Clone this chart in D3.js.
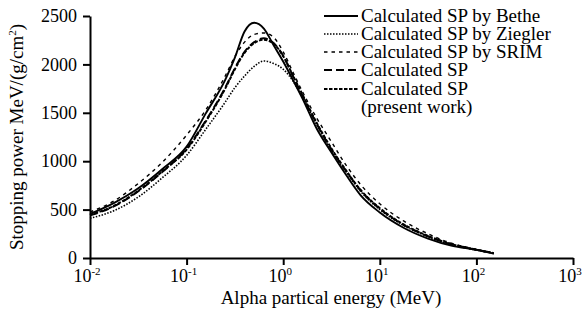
<!DOCTYPE html>
<html>
<head>
    <meta charset="utf-8">
    <title>Stopping power of alpha particles</title>
    <script src="https://d3js.org/d3.v7.min.js"></script>
    <style>
        body { margin: 0; background: #fff; }
        text { font-family: "Liberation Serif", "Times New Roman", serif; fill: #000; }
    </style>
</head>
<body>
    <script>
        // energies (MeV)
        var energy = [0.01, 0.0178, 0.0316, 0.0562, 0.1, 0.158, 0.251, 0.316, 0.398, 0.501,
                      0.631, 0.794, 1, 1.26, 1.58, 2.24, 3.16, 4.47, 6.31, 10, 17.8, 31.6, 56.2, 100, 151];

        var bethe   = [455, 570, 720, 920, 1150, 1494, 1840, 2070, 2340, 2430, 2370, 2200, 2030,
                       1840, 1650, 1330, 1090, 860, 650, 470, 310, 200, 125, 85, 45];
        var ziegler = [410, 490, 630, 830, 1060, 1330, 1610, 1760, 1880, 1980, 2035, 2010, 1950,
                       1830, 1660, 1370, 1110, 890, 690, 500, 335, 220, 135, 82, 48];
        var srim    = [475, 590, 770, 990, 1270, 1530, 1880, 2080, 2230, 2310, 2325, 2280, 2130,
                       1920, 1720, 1440, 1200, 960, 760, 560, 380, 250, 150, 90, 55];
        var calcSP  = [440, 535, 690, 890, 1130, 1420, 1760, 1960, 2130, 2230, 2270, 2220, 2090,
                       1880, 1680, 1380, 1120, 900, 700, 510, 340, 225, 140, 85, 50];
        var present = [445, 540, 695, 895, 1120, 1410, 1750, 1950, 2120, 2220, 2255, 2215, 2085,
                       1885, 1690, 1390, 1130, 905, 705, 515, 345, 228, 142, 86, 50];

        var seriesNames = ["Calculated SP by Bethe", "Calculated SP by Ziegler", "Calculated SP by SRIM",
                           "Calculated SP", "Calculated SP"];
        var xTickExp = [-2, -1, 0, 1, 2, 3];
        var yTicks = [0, 500, 1000, 1500, 2000, 2500];

        var series = [
            { name: seriesNames[0], values: bethe,   dash: null,      width: 1.9 },
            { name: seriesNames[1], values: ziegler, dash: "1.5,1.5", width: 1.6 },
            { name: seriesNames[2], values: srim,    dash: "3.5,4",   width: 1.4 },
            { name: seriesNames[3], values: calcSP,  dash: "8,4",     width: 2 },
            { name: seriesNames[4], values: present, dash: "3.5,1.5", width: 2 }
        ];

        var svg = d3.select("body")
            .append("svg")
            .attr("width", 587)
            .attr("height", 322);

        var x = d3.scaleLog()
            .domain([0.01, 1000])
            .range([90, 573]);

        var y = d3.scaleLinear()
            .domain([0, 2500])
            .range([258, 16]);

        // curves
        var line = d3.line()
            .x(function(d) { return x(d[0]); })
            .y(function(d) { return y(d[1]); })
            .curve(d3.curveMonotoneX);

        series.forEach(function(s) {
            var pts = energy.map(function(e, i) { return [e, s.values[i]]; });
            svg.append("path")
                .datum(pts)
                .attr("d", line)
                .attr("fill", "none")
                .attr("stroke", "#000")
                .attr("stroke-width", s.width)
                .attr("stroke-dasharray", s.dash);
        });

        // x axis
        var xAxis = svg.append("g")
            .attr("transform", "translate(0,258)")
            .call(d3.axisBottom(x)
                .tickValues(xTickExp.map(function(p) { return Math.pow(10, p); }))
                .tickFormat(function() { return ""; })
                .tickSize(7)
                .tickSizeOuter(0));
        xAxis.select(".domain").attr("stroke-width", 2);
        xAxis.selectAll(".tick line").attr("stroke-width", 2);

        xTickExp.forEach(function(p) {
            var t = svg.append("text")
                .attr("x", x(Math.pow(10, p)) - 3)
                .attr("y", 282)
                .attr("text-anchor", "middle")
                .style("font-size", "18px");
            t.append("tspan").text("10");
            t.append("tspan")
                .attr("dy", -7)
                .style("font-size", "11px")
                .text(p);
        });

        // y axis
        var yAxis = svg.append("g")
            .attr("transform", "translate(90,0)")
            .call(d3.axisLeft(y)
                .tickValues(yTicks)
                .tickFormat(d3.format("d"))
                .tickSize(7)
                .tickSizeOuter(0)
                .tickPadding(6));
        yAxis.select(".domain").attr("stroke-width", 2);
        yAxis.selectAll(".tick line").attr("stroke-width", 2);
        yAxis.selectAll(".tick text")
            .style("font-size", "18px");

        // axis titles
        svg.append("text")
            .attr("x", 331)
            .attr("y", 304)
            .attr("text-anchor", "middle")
            .style("font-size", "19px")
            .text("Alpha partical energy (MeV)");

        var yt = svg.append("text")
            .attr("transform", "translate(23,137) rotate(-90)")
            .attr("text-anchor", "middle")
            .style("font-size", "19px");
        yt.append("tspan").text("Stopping power MeV/(g/cm");
        yt.append("tspan").attr("dy", -7).style("font-size", "11px").text("2");
        yt.append("tspan").attr("dy", 7).text(")");

        // legend
        var legend = svg.append("g");
        var rowY = [16, 34, 52, 70, 89];
        series.forEach(function(s, i) {
            legend.append("line")
                .attr("x1", 324).attr("x2", 358)
                .attr("y1", rowY[i]).attr("y2", rowY[i])
                .attr("stroke", "#000")
                .attr("stroke-width", s.width)
                .attr("stroke-dasharray", s.dash);
            legend.append("text")
                .attr("x", 361)
                .attr("y", rowY[i] + 6)
                .style("font-size", "19px")
                .text(s.name);
        });
        legend.append("text")
            .attr("x", 361)
            .attr("y", 107 + 6)
            .style("font-size", "19px")
            .text("(present work)");
    </script>
</body>
</html>
